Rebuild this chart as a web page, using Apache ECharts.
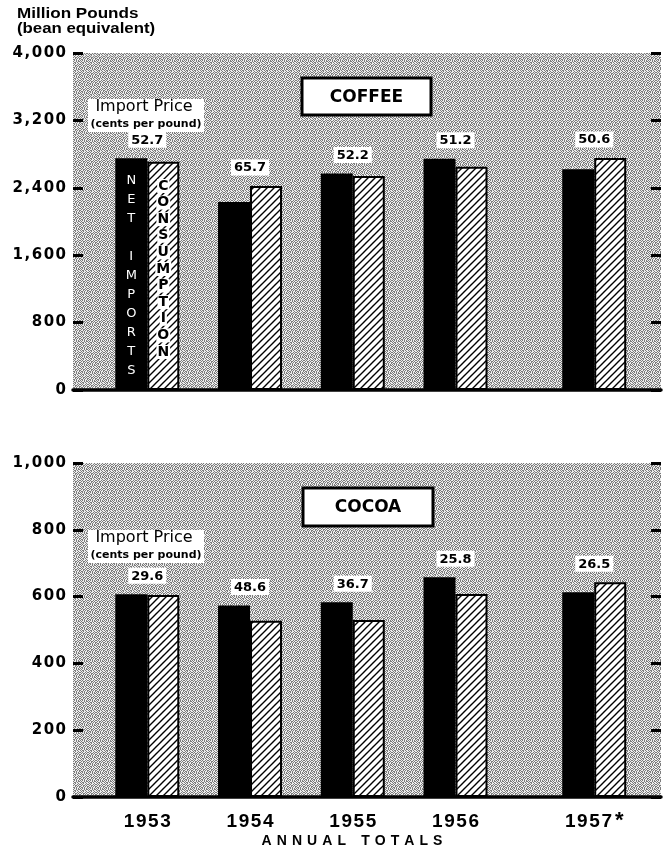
<!DOCTYPE html>
<html><head><meta charset="utf-8">
<script src="https://cdn.jsdelivr.net/npm/echarts@6/dist/echarts.min.js"></script>
<style>html,body{margin:0;padding:0;background:#fff}#c{width:663px;height:849px}</style>
</head><body><div id="c"></div><script>
// ---- data ----
const years = ['1953', '1954', '1955', '1956', '1957'];
const coffeeNetImports   = [2750, 2230, 2570, 2745, 2620];
const coffeeConsumption  = [2710, 2420, 2540, 2650, 2755];
const coffeePrice        = ['52.7', '65.7', '52.2', '51.2', '50.6'];
const cocoaNetImports    = [607, 573, 583, 658, 613];
const cocoaConsumption   = [605, 528, 530, 608, 643];
const cocoaPrice         = ['29.6', '48.6', '36.7', '25.8', '26.5'];
const coffeeAxis = { max: 4000, interval: 800 };
const cocoaAxis  = { max: 1000, interval: 200 };

// ---- layout helpers ----
const slot = i => i + (i === 4 ? 0.35 : 0);   // wider gap before 1957
const X_MIN = -0.723, X_MAX = 5.0;
const FONT = 'DejaVu Sans';
const LIB = 'Liberation Sans';
const spaced = (s, sep) => s.split('').join(sep);

function makeCanvas(w, h, draw) { const c = document.createElement('canvas'); c.width = w; c.height = h; draw(c.getContext('2d')); return c; }
const stippleRows = [
  '#.#..#.#',
  '.#.##.#.',
  '#..#.#.#',
  '.##.#..#',
  '#.#.#.#.',
  '.#..#.##',
  '#.##.#..',
  '.#.#..#.'
];
const stipple = makeCanvas(8, 8, ctx => {
  ctx.fillStyle = '#eeeeee'; ctx.fillRect(0, 0, 8, 8);
  ctx.fillStyle = '#7c7c7c';
  stippleRows.forEach((r, y) => r.split('').forEach((ch, x) => { if (ch === '#') ctx.fillRect(x, y, 1, 1); }));
});
const hatch = makeCanvas(7, 7, ctx => {
  ctx.fillStyle = '#fff'; ctx.fillRect(0, 0, 7, 7);
  ctx.strokeStyle = '#000'; ctx.lineWidth = 1.4; ctx.beginPath();
  for (const o of [-7, 0, 7]) { ctx.moveTo(o - 1, 8); ctx.lineTo(o + 8, -1); }
  ctx.stroke();
});
const stipplePat = { image: stipple, repeat: 'repeat' };
const hatchPat = { image: hatch, repeat: 'repeat' };

const chart = echarts.init(document.getElementById('c'), null, { renderer: 'canvas' });

function yAxes(grid, ax) {
  const base = {
    type: 'value', gridIndex: grid, min: 0, max: ax.max, interval: ax.interval,
    axisLine: { show: false, onZero: false }, splitLine: { show: false },
    axisTick: { show: true, inside: true, length: 10, lineStyle: { color: '#000', width: 3 } }
  };
  return [
    Object.assign({}, base, { position: 'left', axisLabel: { show: true, margin: 7, color: '#000', fontFamily: FONT, fontWeight: 'bold', fontSize: 15,
      formatter: v => spaced(v.toLocaleString('en-US'), '\u200A') } }),
    Object.assign({}, base, { position: 'right', axisLabel: { show: false } })
  ];
}
function xAxis(grid, showLabels) {
  return {
    type: 'value', gridIndex: grid, min: X_MIN, max: X_MAX,
    splitLine: { show: false }, axisTick: { show: false },
    axisLine: { show: true, onZero: false, lineStyle: { color: '#000', width: 3.5 } },
    axisLabel: {
      show: showLabels, customValues: years.map((_, i) => slot(i)), margin: 13,
      formatter: v => {
        let k = 0, best = 1e9;
        years.forEach((_, i) => { const d = Math.abs(slot(i) - v); if (d < best) { best = d; k = i; } });
        const t = '{y|' + spaced(years[k], '\u200A') + '}';
        return k === 4 ? t + '{s|*}' : t;
      },
      rich: {
        y: { fontFamily: LIB, fontSize: 19, fontWeight: 'bold', color: '#000', lineHeight: 24 },
        s: { fontFamily: LIB, fontSize: 22, fontWeight: 'bold', color: '#000', lineHeight: 12, verticalAlign: 'top', padding: [0, 0, 10, 3] }
      }
    }
  };
}

function barSeries(grid, net, cons, price, withNames) {
  const xi = grid, yi = grid * 2;
  const netData = net.map((v, i) => {
    const d = { value: [slot(i), v] };
    if (withNames && i === 0) d.label = { show: true, position: 'insideTop', distance: 13, color: '#fff', fontFamily: FONT, fontSize: 13,
      lineHeight: 19, formatter: 'N\nE\nT\n \nI\nM\nP\nO\nR\nT\nS' };
    return d;
  });
  const consData = cons.map((v, i) => {
    const d = { value: [slot(i), v] };
    if (withNames && i === 0) d.label = { show: true, position: 'insideTop', distance: 16,
      formatter: 'CONSUMPTION'.split('').map(c => '{c|' + c + '}').join('\n'),
      rich: { c: { color: '#000', backgroundColor: '#fff', fontFamily: FONT, fontWeight: 'bold', fontSize: 14, lineHeight: 16.6, padding: [0, 1] } } };
    return d;
  });
  return [
    { type: 'bar', xAxisIndex: xi, yAxisIndex: yi, barWidth: 32, barGap: '0%', data: netData,
      itemStyle: { color: '#000' }, label: { show: false } },
    { type: 'bar', xAxisIndex: xi, yAxisIndex: yi, barWidth: 32, barGap: '0%', data: consData,
      itemStyle: { color: hatchPat, borderColor: '#000', borderWidth: 2 }, label: { show: false } },
    { type: 'scatter', xAxisIndex: xi, yAxisIndex: yi, symbolSize: 1, itemStyle: { color: 'rgba(0,0,0,0)' }, silent: true, z: 5,
      data: net.map((v, i) => [slot(i), Math.max(v, cons[i])]),
      label: { show: true, position: 'top', distance: 10, formatter: p => price[p.dataIndex], color: '#000', opacity: 1,
        backgroundColor: '#fff', padding: [2, 3, 1, 3], fontFamily: FONT, fontWeight: 'bold', fontSize: 13 } }
  ];
}

function priceBox(top) {
  return [
    { type: 'rect', shape: { x: 88, y: top, width: 116, height: 33 }, style: { fill: '#fff' }, z: 10 },
    { type: 'text', x: 144, y: top + 8, style: { text: 'Import Price', fill: '#000', font: '16px "' + FONT + '"', align: 'center', verticalAlign: 'middle' }, z: 11 },
    { type: 'text', x: 146, y: top + 25, style: { text: '(cents per pound)', fill: '#000', font: 'bold 11px "' + FONT + '"', align: 'center', verticalAlign: 'middle' }, z: 11 }
  ];
}
function nameBox(x, y, w, h, text) {
  return [
    { type: 'rect', shape: { x: x, y: y, width: w, height: h }, style: { fill: '#fff', stroke: '#000', lineWidth: 3 }, z: 10 },
    { type: 'text', x: x + w / 2, y: y + h / 2 + 1, style: { text: text, fill: '#000', font: 'bold 17px "' + FONT + '"', align: 'center', verticalAlign: 'middle' }, z: 11 }
  ];
}

const option = {
  animation: false,
  backgroundColor: '#fff',
  grid: [
    { left: 73, right: 2, top: 53, height: 337, show: true, backgroundColor: stipplePat, borderWidth: 0 },
    { left: 73, right: 2, top: 463, height: 334, show: true, backgroundColor: stipplePat, borderWidth: 0 }
  ],
  xAxis: [xAxis(0, false), xAxis(1, true)],
  yAxis: [].concat(yAxes(0, coffeeAxis), yAxes(1, cocoaAxis)),
  series: [].concat(
    barSeries(0, coffeeNetImports, coffeeConsumption, coffeePrice, true),
    barSeries(1, cocoaNetImports, cocoaConsumption, cocoaPrice, false)
  ),
  graphic: [].concat(
    [
      { type: 'text', x: 17, y: 14.5, scaleX: 1.22, style: { text: 'Million Pounds', fill: '#000', font: 'bold 14px "' + LIB + '"', verticalAlign: 'middle' } },
      { type: 'text', x: 17, y: 29, scaleX: 1.2, style: { text: '(bean equivalent)', fill: '#000', font: 'bold 14px "' + LIB + '"', verticalAlign: 'middle' } },
      { type: 'text', x: 352, y: 841, style: { text: 'A N N U A L   T O T A L S'.split(' ').join(' \u200A'), fill: '#000', font: 'bold 14px "' + LIB + '"', align: 'center', verticalAlign: 'middle' } }
    ],
    priceBox(99), priceBox(530),
    nameBox(302, 78, 129, 37, 'COFFEE'),
    nameBox(303, 488, 130, 38, 'COCOA')
  )
};
chart.setOption(option);
</script></body></html>
